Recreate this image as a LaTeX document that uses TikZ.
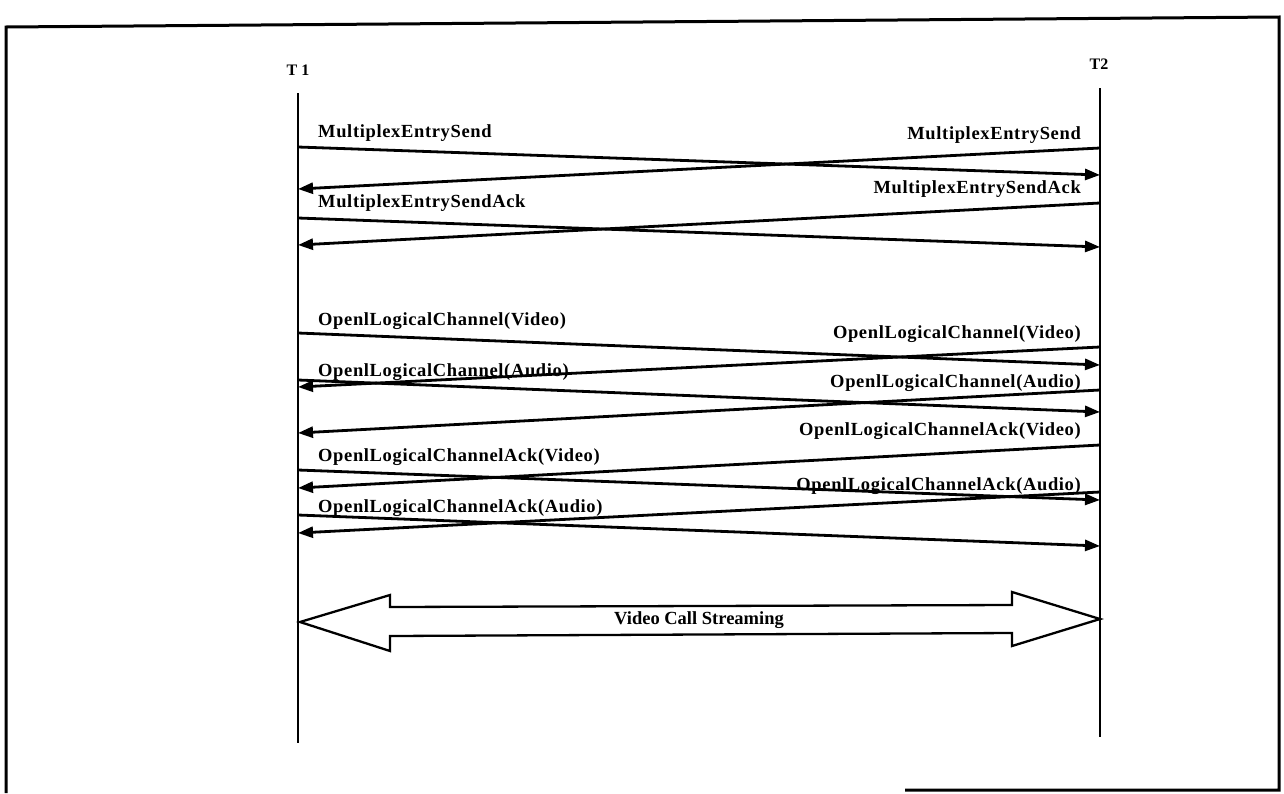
\documentclass[tikz,border=0pt]{standalone}
\usepackage{fontspec}
\setmainfont{Liberation Serif}
\newfontfamily\lblfont{Liberation Serif}[LetterSpace=3.5]
\usetikzlibrary{arrows.meta}
\begin{document}
\begin{tikzpicture}[x=1pt,y=-1pt,
  lifeline/.style={line width=2.3pt},
  msg/.style={line width=2.8pt,-{Triangle[length=15pt,width=11pt]}},
  lblL/.style={anchor=base west,inner sep=0pt,font=\lblfont\bfseries\fontsize{18.5}{20}\selectfont},
  lblR/.style={anchor=base east,inner sep=0pt,font=\lblfont\bfseries\fontsize{18.5}{20}\selectfont},
  ent/.style={inner sep=0pt,font=\bfseries\fontsize{16}{18}\selectfont},
  frame/.style={line width=3pt}]
\useasboundingbox (0,0) rectangle (1284,793);
% frame
\draw[frame] (6,793) -- (6,27) -- (1279,17) -- (1279,790) -- (905,790);
% entities
\node[ent] (T1) at (298,70) {T 1};
\node[ent] (T2) at (1099,64) {T2};
\coordinate (l1t) at (298,93);  \coordinate (l1b) at (298,743);
\coordinate (l2t) at (1100,88); \coordinate (l2b) at (1100,737);
\draw[lifeline] (l1t) -- (l1b);
\draw[lifeline] (l2t) -- (l2b);
% messages
\coordinate (m1s) at (298,147);  \coordinate (m1e) at (1100,175);
\coordinate (m2s) at (1100,148); \coordinate (m2e) at (298,189);
\coordinate (m3s) at (298,218);  \coordinate (m3e) at (1100,247);
\coordinate (m4s) at (1100,203); \coordinate (m4e) at (298,245);
\coordinate (m5s) at (298,333);  \coordinate (m5e) at (1100,365);
\coordinate (m6s) at (1100,347); \coordinate (m6e) at (298,387);
\coordinate (m7s) at (298,380);  \coordinate (m7e) at (1100,412);
\coordinate (m8s) at (1100,390); \coordinate (m8e) at (298,433);
\coordinate (m9s) at (1100,445); \coordinate (m9e) at (298,488);
\coordinate (m10s) at (298,470); \coordinate (m10e) at (1100,500);
\coordinate (m11s) at (1100,492);\coordinate (m11e) at (298,533);
\coordinate (m12s) at (298,515); \coordinate (m12e) at (1100,546);
\foreach \i in {1,...,12}{\draw[msg] (m\i s) -- (m\i e);}
% labels
\node[lblL] (n1) at (318,137) {MultiplexEntrySend};
\node[lblR] (n2) at (1081,139) {MultiplexEntrySend};
\node[lblL] (n3) at (318,207) {MultiplexEntrySendAck};
\node[lblR] (n4) at (1081,193) {MultiplexEntrySendAck};
\node[lblL] (n5) at (318,325) {OpenlLogicalChannel(Video)};
\node[lblR] (n6) at (1081,338) {OpenlLogicalChannel(Video)};
\node[lblL] (n7) at (318,376) {OpenlLogicalChannel(Audio)};
\node[lblR] (n8) at (1081,387) {OpenlLogicalChannel(Audio)};
\node[lblR] (n9) at (1081,435) {OpenlLogicalChannelAck(Video)};
\node[lblL] (n10) at (318,461) {OpenlLogicalChannelAck(Video)};
\node[lblR] (n11) at (1081,490) {OpenlLogicalChannelAck(Audio)};
\node[lblL] (n12) at (318,512) {OpenlLogicalChannelAck(Audio)};
% streaming double arrow
\draw[line width=2.3pt,line join=miter]
  (300,622) -- (390,595) -- (390,607) -- (1012,605) -- (1012,592)
  -- (1100,619) -- (1012,646) -- (1012,633) -- (390,636) -- (390,651) -- cycle;
\node[inner sep=0pt,font=\bfseries\fontsize{18.5}{20}\selectfont] (vcs) at (699,620) {Video Call Streaming};
\end{tikzpicture}
\end{document}
